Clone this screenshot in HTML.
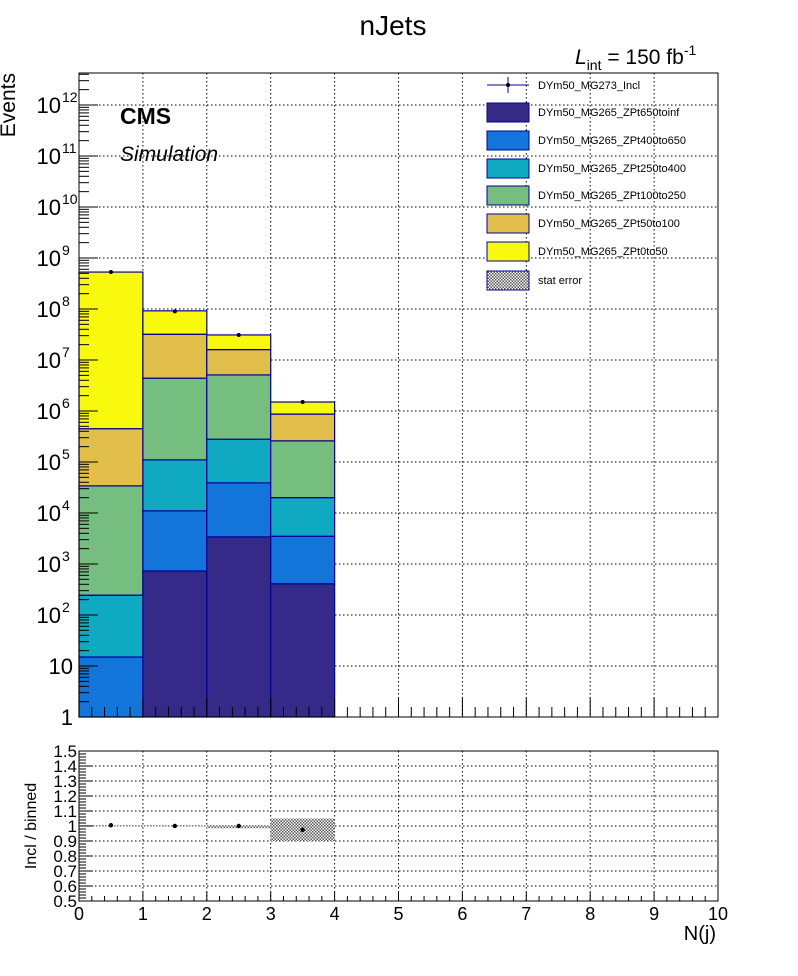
<!DOCTYPE html>
<html><head><meta charset="utf-8">
<style>
body{margin:0;background:#fff;}
svg{display:block;font-family:"Liberation Sans",sans-serif;}
</style></head>
<body>
<svg id="c" width="798" height="976" xmlns="http://www.w3.org/2000/svg">
<rect width="798" height="976" fill="#fff"/>
</svg>
<script>
const categories=[0.5,1.5,2.5,3.5];
const purple=[0,730,3400,410];
const blue=[15,10300,35600,3090];
const teal=[230,99000,241000,16500];
const green=[33800,4290000,4820000,240000];
const orange=[416000,27600000,10900000,610000];
const yellow=[529500000,60000000,15000000,630000];
const dataPts=[5.3e8,9.0e7,3.1e7,1.5e6];
const ratioVals=[1.005,1.0,1.0,0.975];
const ratioErrLo=[0.997,0.997,0.985,0.9];
const ratioErrHi=[1.005,1.005,1.005,1.05];
const xTicks=[0,1,2,3,4,5,6,7,8,9,10];
const yDecades=[0,1,2,3,4,5,6,7,8,9,10,11,12];
const rTicks=[0.5,0.6,0.7,0.8,0.9,1,1.1,1.2,1.3,1.4,1.5];
const seriesNames=["DYm50_MG265_ZPt650toinf","DYm50_MG265_ZPt400to650","DYm50_MG265_ZPt250to400","DYm50_MG265_ZPt100to250","DYm50_MG265_ZPt50to100","DYm50_MG265_ZPt0to50"];
const seriesData=[purple,blue,teal,green,orange,yellow];
const colors=["#352a87","#1375da","#0fa9c2","#76bd80","#e2bf4a","#f9f90e"];

const NS="http://www.w3.org/2000/svg";
const svg=document.getElementById('c');
function el(t,a,p){const e=document.createElementNS(NS,t);for(const k in a)e.setAttribute(k,a[k]);(p||svg).appendChild(e);return e;}
const X0=79,X1=718,Y0=717,YT=73,DEC=51;
const RY0=901,RY1=751;
const x=v=>X0+(X1-X0)*v/10;
const y=v=>Y0-Math.log10(Math.max(v,1))*DEC;
const ry=v=>RY0-(v-0.5)*(RY0-RY1);

const grid=el('g',{});


xTicks.slice(1,-1).forEach(t=>el('line',{x1:x(t),x2:x(t),y1:YT,y2:Y0,stroke:'#000','stroke-dasharray':'1.5,2.5','stroke-width':1},grid));
yDecades.slice(1).forEach(d=>el('line',{x1:X0,x2:X1,y1:Y0-d*DEC,y2:Y0-d*DEC,stroke:'#000','stroke-dasharray':'1.5,2.5','stroke-width':1},grid));

const stack=el('g',{});


categories.forEach((c,i)=>{
  let cum=0;
  seriesData.forEach((s,j)=>{
    const lo=cum;cum+=s[i];
    if(s[i]<=0)return;
    const r=el('rect',{x:x(c-0.5),y:y(cum),width:x(c+0.5)-x(c-0.5),height:y(lo)-y(cum),fill:colors[j],stroke:'#000099','stroke-width':1.2},stack);
    
    
  });
});
categories.forEach((c,i)=>{
  const p=el('circle',{cx:x(c),cy:y(dataPts[i]),r:2,fill:'#000'});
  
  
});

el('rect',{x:X0,y:YT,width:X1-X0,height:Y0-YT,fill:'none',stroke:'#000','stroke-width':1});
xTicks.forEach((t,i)=>{
  el('line',{x1:x(t),x2:x(t),y1:Y0,y2:Y0-19,stroke:'#000'});
  if(i<10)for(let k=1;k<5;k++)el('line',{x1:x(t+k*0.2),x2:x(t+k*0.2),y1:Y0,y2:Y0-10,stroke:'#000'});
});
yDecades.forEach(d=>{
  const yy=Y0-d*DEC;
  el('line',{x1:X0,x2:X0+19,y1:yy,y2:yy,stroke:'#000'});
  for(let k=2;k<10;k++){const ym=yy-Math.log10(k)*DEC;if(ym>YT)el('line',{x1:X0,x2:X0+10,y1:ym,y2:ym,stroke:'#000'});}
  let t;
  if(d<=1)t=el('text',{x:73,y:yy+8,'font-size':22,'text-anchor':'end'});
  else{t=el('text',{x:61,y:yy+8,'font-size':22,'text-anchor':'end'});}
  
  
  if(d<=1)t.textContent=d===0?'1':'10';
  else{t.textContent='10';const s=el('text',{x:62,y:yy-3,'font-size':14});s.textContent=d;}
});

let t=el('text',{x:393,y:35,'font-size':28,'text-anchor':'middle'});t.textContent='nJets';

t=el('text',{x:15,y:73,'font-size':21,'text-anchor':'end',transform:'rotate(-90 15 73)'});t.textContent='Events';

t=el('text',{x:120,y:124,'font-size':23,'font-weight':'bold'});t.textContent='CMS';

t=el('text',{x:120,y:161,'font-size':21,'font-style':'italic'});t.textContent='Simulation';

t=el('text',{x:575,y:64,'font-size':21});

t.innerHTML='<tspan font-style="italic">L</tspan><tspan font-size="14" dy="6">int</tspan><tspan dy="-6"> = 150 fb</tspan><tspan font-size="14" dy="-9">-1</tspan>';

const leg=el('g',{});


const ly=[85,112,140,168,195,223,251,280];
el('line',{x1:487,x2:529,y1:ly[0],y2:ly[0],stroke:'#000099'},leg);
el('line',{x1:508,x2:508,y1:ly[0]-8,y2:ly[0]+8,stroke:'#000099'},leg);
el('circle',{cx:508,cy:ly[0],r:2,fill:'#000'},leg);
let lt=el('text',{x:538,y:ly[0]+4,'font-size':11},leg);lt.textContent='DYm50_MG273_Incl';

seriesNames.forEach((n,j)=>{
  const yy=ly[j+1];
  el('rect',{x:487,y:yy-9,width:42,height:19,fill:colors[j],stroke:'#000099'},leg);
  const tt=el('text',{x:538,y:yy+4,'font-size':11},leg);tt.textContent=n;
  
});
const defs=el('defs',{});
const pat=el('pattern',{id:'hatch',width:3,height:3,patternUnits:'userSpaceOnUse'},defs);
el('rect',{width:3,height:3,fill:'#fff'},pat);
el('rect',{width:1.5,height:1.5,fill:'#555'},pat);
el('rect',{x:1.5,y:1.5,width:1.5,height:1.5,fill:'#555'},pat);
el('rect',{x:487,y:ly[7]-9,width:42,height:19,fill:'url(#hatch)',stroke:'#000099'},leg);
lt=el('text',{x:538,y:ly[7]+4,'font-size':11},leg);lt.textContent='stat error';


const rg=el('g',{});


xTicks.slice(1,-1).forEach(tk=>el('line',{x1:x(tk),x2:x(tk),y1:RY1,y2:RY0,stroke:'#000','stroke-dasharray':'1.5,2.5'},rg));
rTicks.slice(1,-1).forEach(v=>el('line',{x1:X0,x2:X1,y1:ry(v),y2:ry(v),stroke:'#000','stroke-dasharray':'1.5,2.5'},rg));
categories.forEach((c,i)=>{
  const b=el('rect',{x:x(c-0.5),y:ry(ratioErrHi[i]),width:x(c+0.5)-x(c-0.5),height:ry(ratioErrLo[i])-ry(ratioErrHi[i]),fill:'url(#hatch)'},rg);
  
  const p=el('circle',{cx:x(c),cy:ry(ratioVals[i]),r:2.2,fill:'#000'},rg);
  
});
el('rect',{x:X0,y:RY1,width:X1-X0,height:RY0-RY1,fill:'none',stroke:'#000'},rg);
xTicks.forEach((tk,i)=>{
  el('line',{x1:x(tk),x2:x(tk),y1:RY0,y2:RY0-9,stroke:'#000'},rg);
  if(i<10)for(let k=1;k<5;k++)el('line',{x1:x(tk+k*0.2),x2:x(tk+k*0.2),y1:RY0,y2:RY0-5,stroke:'#000'},rg);
  const l=el('text',{x:x(tk),y:920,'font-size':18,'text-anchor':'middle'},rg);l.textContent=tk;
  
});
rTicks.forEach((v,i)=>{
  el('line',{x1:X0,x2:X0+14,y1:ry(v),y2:ry(v),stroke:'#000'},rg);
  if(i<10)for(let k=1;k<5;k++)el('line',{x1:X0,x2:X0+7,y1:ry(v+k*0.02),y2:ry(v+k*0.02),stroke:'#000'},rg);
  const l=el('text',{x:77,y:ry(v)+6,'font-size':17,'text-anchor':'end'},rg);l.textContent=v;
  
});
t=el('text',{x:36,y:826,'font-size':16,'text-anchor':'middle',transform:'rotate(-90 36 826)'});t.textContent='Incl / binned';

t=el('text',{x:716,y:940,'font-size':20,'text-anchor':'end'});t.textContent='N(j)';

</script>
</body></html>
